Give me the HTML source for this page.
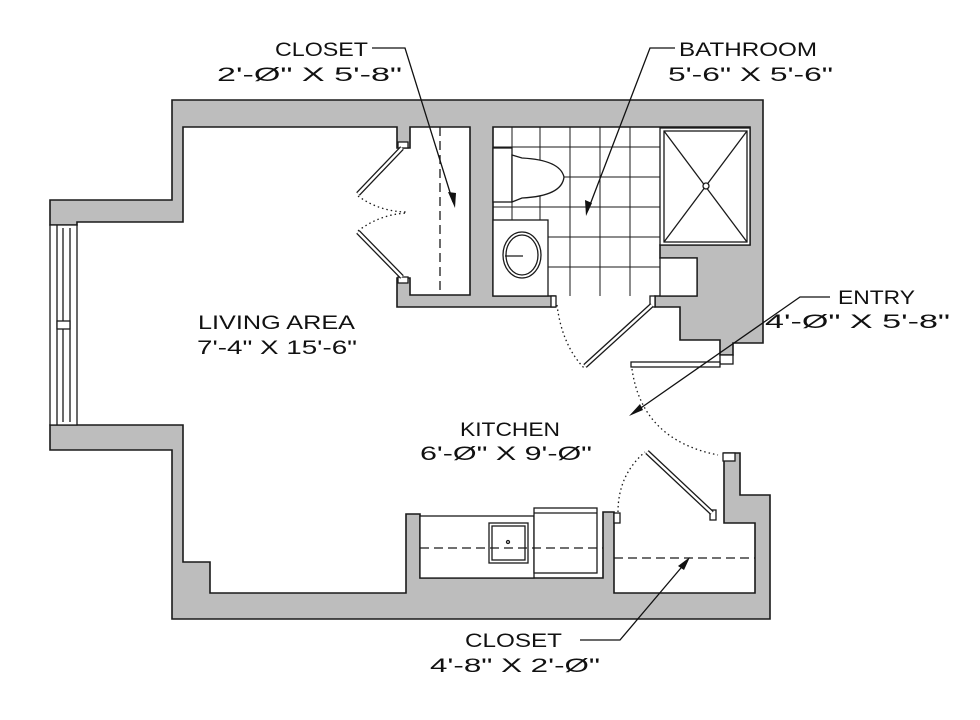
<!DOCTYPE html>
<html><head><meta charset="utf-8"><style>
html,body{margin:0;padding:0;background:#fff;}
svg{display:block;}
text{font-family:"Liberation Sans",sans-serif;font-size:19px;fill:#111;}
</style></head><body>
<svg width="980" height="720" viewBox="0 0 980 720" xmlns="http://www.w3.org/2000/svg">
<rect width="980" height="720" fill="#fff"/>
<g fill="#bdbdbd" stroke="#1a1a1a" stroke-width="1.6" stroke-linejoin="miter">
<polygon points="50,200 172,200 172,100 763,100 763,343 733,343 733,355 720,355 720,340 680,340 680,307 655,307 655,296 697,296 697,258 660,258 660,245 750,245 750,127 493,127 493,296 555,296 555,307 397,307 397,278 410,278 410,295 470,295 470,127 410,127 410,148 397,148 397,127 183,127 183,222 77,222 77,225 50,225"/>
<polygon points="724,453 740,453 740,495 770,495 770,619 172,619 172,450 50,450 50,425 183,425 183,562 210,562 210,593 406,593 406,514 420,514 420,578 603,578 603,512 614,512 614,593 755,593 755,523 724,523"/>
</g>
<g fill="none" stroke="#1a1a1a" stroke-width="1.3">
<rect x="50" y="225" width="27" height="200" fill="#fff"/>
<line x1="57" y1="225" x2="57" y2="425"/><line x1="63" y1="228" x2="63" y2="422"/><line x1="70" y1="228" x2="70" y2="422"/>
<rect x="57" y="321" width="13" height="8" fill="#fff"/>
<rect x="398" y="142" width="10" height="6" fill="#fff"/>
<rect x="398" y="277" width="10" height="6" fill="#fff"/>
<line x1="402" y1="148" x2="358" y2="194" stroke-width="5"/>
<line x1="402" y1="148" x2="358" y2="194" stroke="#fff" stroke-width="2.4"/>
<line x1="402" y1="277" x2="358" y2="232" stroke-width="5"/>
<line x1="402" y1="277" x2="358" y2="232" stroke="#fff" stroke-width="2.4"/>
<path d="M358,196 Q380,212 408,212 M358,231 Q380,214 408,213" stroke-dasharray="1.5,3"/>
<line x1="440" y1="127" x2="440" y2="295" stroke-dasharray="9,5"/>
<g stroke-width="1">
<line x1="512" y1="127" x2="512" y2="220"/><line x1="540" y1="127" x2="540" y2="296"/><line x1="570" y1="127" x2="570" y2="296"/><line x1="600" y1="127" x2="600" y2="296"/><line x1="630" y1="127" x2="630" y2="296"/><line x1="660" y1="127" x2="660" y2="296"/>
<line x1="493" y1="147" x2="660" y2="147"/><line x1="512" y1="177" x2="660" y2="177"/><line x1="493" y1="207" x2="660" y2="207"/><line x1="548" y1="237" x2="660" y2="237"/><line x1="548" y1="267" x2="660" y2="267"/>
</g>
<rect x="493" y="148" width="19" height="54" fill="#fff"/>
<path d="M512,155 L522,158 Q560,160 564,177 Q562,196 522,198 L512,202 Z" fill="#fff"/>
<rect x="493" y="220" width="55" height="76" fill="#fff"/>
<ellipse cx="522" cy="255" rx="19" ry="23"/><ellipse cx="522" cy="255" rx="16" ry="20"/>
<line x1="505" y1="256" x2="523" y2="256"/>
<rect x="660" y="128" width="90" height="117" fill="#fff"/>
<rect x="664" y="131" width="83" height="111"/>
<line x1="664" y1="131" x2="747" y2="242"/><line x1="747" y1="131" x2="664" y2="242"/>
<circle cx="706" cy="186" r="3" fill="#fff"/>
<rect x="660" y="258" width="37" height="38" fill="#fff"/>
<rect x="551" y="296" width="5" height="11" fill="#fff"/>
<rect x="650" y="296" width="5" height="11" fill="#fff"/>
<line x1="652" y1="305" x2="585" y2="366" stroke-width="5"/>
<line x1="652" y1="305" x2="585" y2="366" stroke="#fff" stroke-width="2.4"/>
<path d="M557,305 Q562,345 584,368" stroke-dasharray="1.5,3"/>
<rect x="720" y="355" width="13" height="9" fill="#fff"/>
<rect x="631" y="362" width="89" height="5" fill="#fff"/>
<path d="M632,369 Q642,440 718,455" stroke-dasharray="1.5,3"/>
<rect x="420" y="516" width="114" height="62" fill="#fff"/>
<rect x="489" y="523" width="39" height="40" fill="#fff"/><rect x="492" y="526" width="33" height="34"/>
<circle cx="508" cy="542" r="1.5"/>
<rect x="534" y="508" width="63" height="65" fill="#fff"/><line x1="534" y1="513" x2="597" y2="513"/>
<line x1="420" y1="548" x2="603" y2="548" stroke-dasharray="9,5"/>
<rect x="614" y="513" width="6" height="10" fill="#fff"/>
<rect x="710" y="510" width="6" height="10" fill="#fff"/>
<rect x="723" y="453" width="12" height="8" fill="#fff"/>
<line x1="712" y1="513" x2="647" y2="452" stroke-width="5"/>
<line x1="712" y1="513" x2="647" y2="452" stroke="#fff" stroke-width="2.4"/>
<path d="M618,512 Q618,475 645,452" stroke-dasharray="1.5,3"/>
<line x1="614" y1="558" x2="755" y2="558" stroke-dasharray="9,5"/>
</g>
<g fill="none" stroke="#111" stroke-width="1.3">
<polyline points="372,48 405,48 453,202"/>
<polyline points="675,48 650,48 588,210"/>
<polyline points="830,297 800,297 635,412"/>
<polyline points="580,640 620,640 686,562"/>
</g>
<g fill="#111">
<polygon points="455,208 448,192 456,193"/>
<polygon points="586,216 585,200 592,203"/>
<polygon points="629,416 640,404 643,410"/>
<polygon points="690,557 678,566 684,570"/>
</g>
<g lengthAdjust="spacingAndGlyphs">
<text x="275" y="56" textLength="93" lengthAdjust="spacingAndGlyphs">CLOSET</text>
<text x="217" y="81" textLength="185" lengthAdjust="spacingAndGlyphs">2'-Ø" X 5'-8"</text>
<text x="679" y="56" textLength="138" lengthAdjust="spacingAndGlyphs">BATHROOM</text>
<text x="668" y="81" textLength="165" lengthAdjust="spacingAndGlyphs">5'-6" X 5'-6"</text>
<text x="198" y="329" textLength="157" lengthAdjust="spacingAndGlyphs">LIVING AREA</text>
<text x="197" y="354" textLength="160" lengthAdjust="spacingAndGlyphs">7'-4" X 15'-6"</text>
<text x="460" y="436" textLength="100" lengthAdjust="spacingAndGlyphs">KITCHEN</text>
<text x="420" y="460" textLength="172" lengthAdjust="spacingAndGlyphs">6'-Ø" X 9'-Ø"</text>
<text x="838" y="304" textLength="77" lengthAdjust="spacingAndGlyphs">ENTRY</text>
<text x="765" y="328" textLength="185" lengthAdjust="spacingAndGlyphs">4'-Ø" X 5'-8"</text>
<text x="465" y="647" textLength="97" lengthAdjust="spacingAndGlyphs">CLOSET</text>
<text x="430" y="672" textLength="170" lengthAdjust="spacingAndGlyphs">4'-8" X 2'-Ø"</text>
</g>
</svg>
</body></html>
